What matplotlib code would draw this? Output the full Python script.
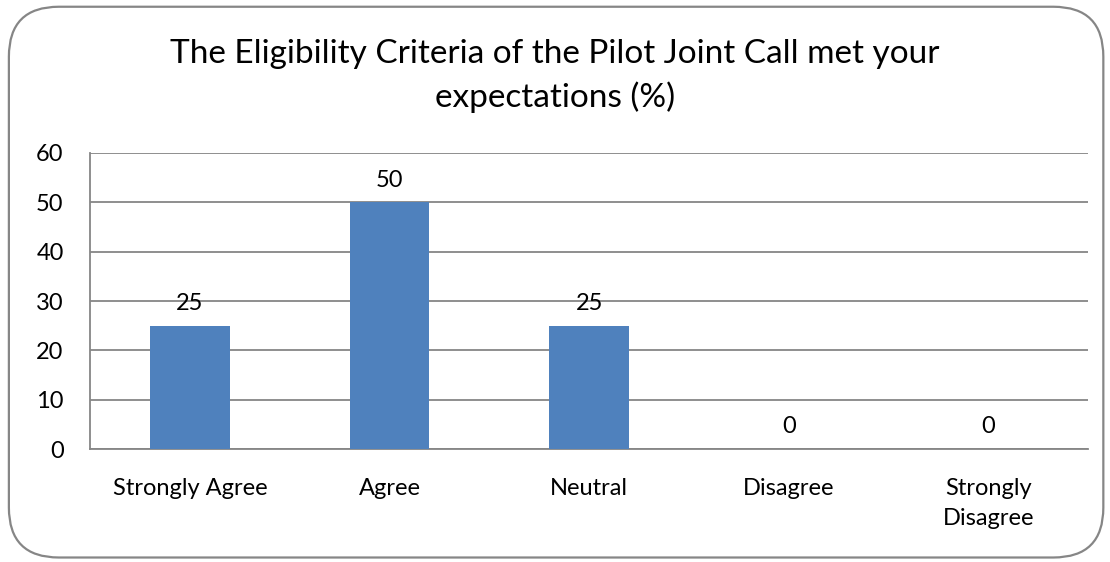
import matplotlib.pyplot as plt
from matplotlib.patches import FancyBboxPatch

# chart data
categories = ['Strongly Agree', 'Agree', 'Neutral', 'Disagree', 'Strongly\nDisagree']
values = [25, 50, 25, 0, 0]
yticks = [0, 10, 20, 30, 40, 50, 60]
title = 'The Eligibility Criteria of the Pilot Joint Call met your\nexpectations (%)'

plt.rcParams['font.family'] = ['Lato', 'DejaVu Sans']

fig = plt.figure(figsize=(11.1, 5.62), dpi=100)
ax = fig.add_axes([0.0811, 0.201, 0.8993, 0.5268])

# rounded outer frame like the Excel chart area
frame = FancyBboxPatch((0.008, 0.008), 0.986, 0.98,
                       boxstyle='round,pad=0,rounding_size=0.045',
                       transform=fig.transFigure, facecolor='none',
                       edgecolor='#868686', linewidth=1.6, mutation_aspect=1110 / 562)
fig.patches.append(frame)

x = range(len(categories))
bars = ax.bar(x, values, width=0.4, color='#4F81BD', zorder=3)

for b, v in zip(bars, values):
    ax.annotate(f'{v}', (b.get_x() + b.get_width() / 2, b.get_height()),
                xytext=(0, 16), textcoords='offset points',
                ha='center', va='center', fontsize=17, color='black', zorder=4)

ax.set_xlim(-0.5, len(categories) - 0.5)
ax.set_ylim(0, 60)
ax.set_yticks(yticks)
ax.set_xticks(list(x))
ax.set_xticklabels(categories, fontsize=17, linespacing=1.5)
ax.tick_params(axis='y', length=0, pad=19, labelsize=17)
ax.tick_params(axis='x', length=0, pad=21)

ax.grid(axis='y', color='#868686', linewidth=1.3, zorder=0)
for s in ['top', 'right']:
    ax.spines[s].set_visible(False)
for s in ['left', 'bottom']:
    ax.spines[s].set_color('#868686')
    ax.spines[s].set_linewidth(1.3)

fig.text(0.5, 0.865, title, ha='center', va='center', fontsize=24, linespacing=1.5)

fig.savefig('out.png', dpi=100)
